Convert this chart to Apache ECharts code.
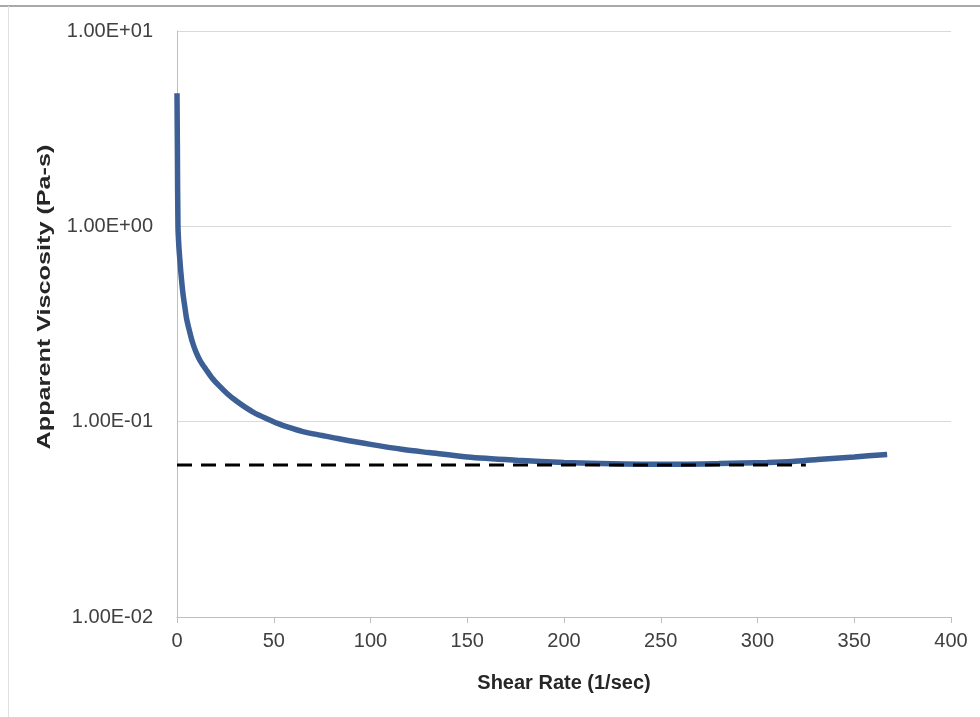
<!DOCTYPE html>
<html>
<head>
<meta charset="utf-8">
<script src="https://cdn.jsdelivr.net/npm/echarts@6/dist/echarts.min.js"></script>
<style>
  html, body { margin: 0; padding: 0; background: #fff; }
  #chart { width: 980px; height: 717px; }
</style>
</head>
<body>
<div id="chart"></div>
<script>
// Measured flow curve: shear rate (1/sec) vs apparent viscosity (Pa-s)
const shearRate = [0, 0.2, 0.5, 1, 1.5, 2, 3, 4, 5, 6.5, 8, 10, 12, 15, 18, 22, 26, 30, 35, 40,
  47, 52, 57, 65, 75, 83, 100, 117, 130, 150, 176, 200, 219, 240, 261, 280, 305, 318, 331, 350, 367];
const viscosity = [4.8, 2.5, 1.0, 0.78, 0.67, 0.58, 0.46, 0.39, 0.335, 0.29, 0.255, 0.225, 0.205, 0.185, 0.168, 0.152, 0.139, 0.129, 0.119, 0.111,
  0.103, 0.098, 0.094, 0.089, 0.085, 0.082, 0.0765, 0.072, 0.0695, 0.066, 0.0635, 0.0618, 0.061, 0.0606, 0.0606, 0.061, 0.0618, 0.0625, 0.064, 0.066, 0.068];

// Reference level (dashed)
const refShear = [0, 325];
const refViscosity = [0.06, 0.06];

// Axis tick labels
const yTickLabels = ['1.00E-02', '1.00E-01', '1.00E+00', '1.00E+01'];
const xTicks = [0, 50, 100, 150, 200, 250, 300, 350, 400];

const curve = shearRate.map((x, i) => [x, viscosity[i]]);
const refLine = refShear.map((x, i) => [x, refViscosity[i]]);

const labelFont = '"Liberation Sans", Arial, sans-serif';

const chart = echarts.init(document.getElementById('chart'), null, { renderer: 'canvas' });
chart.setOption({
  backgroundColor: '#ffffff',
  animation: false,
  grid: { left: 177, right: 29, top: 31, bottom: 100, containLabel: false },
  xAxis: {
    type: 'value',
    min: xTicks[0],
    max: xTicks[xTicks.length - 1],
    interval: 50,
    name: 'Shear Rate (1/sec)',
    nameLocation: 'middle',
    nameGap: 56,
    nameTextStyle: { fontFamily: labelFont, fontWeight: 'bold', fontSize: 20, color: '#262626' },
    axisLine: { show: true, lineStyle: { color: '#bfbfbf', width: 1 } },
    axisTick: { show: true, length: 6, lineStyle: { color: '#bfbfbf' } },
    axisLabel: { fontFamily: labelFont, fontSize: 20, color: '#404040', margin: 14 },
    splitLine: { show: false }
  },
  yAxis: {
    type: 'log',
    logBase: 10,
    min: 0.01,
    max: 10,
    axisLine: { show: true, lineStyle: { color: '#bfbfbf', width: 1 } },
    axisTick: { show: false },
    axisLabel: {
      fontFamily: labelFont, fontSize: 20, color: '#404040', margin: 24,
      formatter: v => yTickLabels[Math.round(Math.log10(v)) + 2]
    },
    splitLine: { show: true, lineStyle: { color: '#d9d9d9', width: 1 } }
  },
  series: [
    {
      type: 'line',
      data: curve,
      showSymbol: false,
      smooth: 0.3,
      lineStyle: { color: '#3c5f95', width: 5.5 },
      z: 2
    },
    {
      type: 'line',
      data: refLine,
      showSymbol: false,
      lineStyle: { color: '#000000', width: 3, type: [15, 9] },
      z: 3
    }
  ],
  graphic: [
    { type: 'line', shape: { x1: 0, y1: 6, x2: 980, y2: 6 }, style: { stroke: '#8c8c8c', lineWidth: 1.5 }, silent: true },
    { type: 'line', shape: { x1: 8.5, y1: 6, x2: 8.5, y2: 717 }, style: { stroke: '#e0e0e0', lineWidth: 1 }, silent: true },
    // vertical axis title, stretched along its length
    {
      type: 'text',
      x: 45, y: 297,
      rotation: Math.PI / 2,
      scaleX: 1.4,
      style: {
        text: 'Apparent Viscosity (Pa-s)',
        font: 'bold 18px "Liberation Sans", Arial, sans-serif',
        fill: '#262626',
        align: 'center',
        verticalAlign: 'middle'
      },
      silent: true
    }
  ]
});
</script>
</body>
</html>
